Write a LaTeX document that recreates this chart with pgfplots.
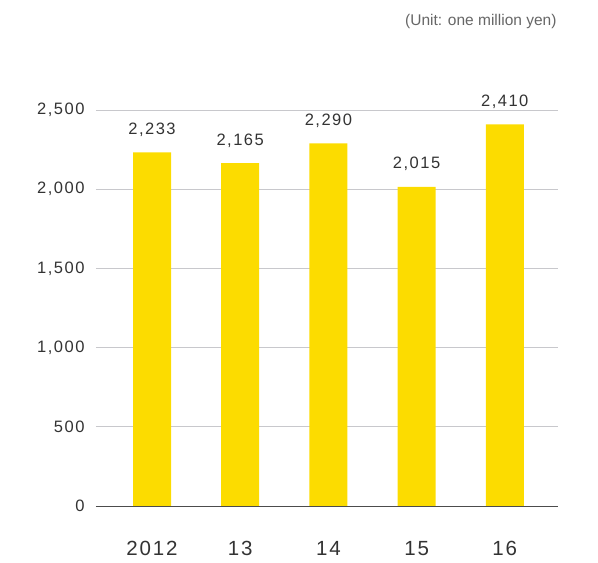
\documentclass[border=0pt]{standalone}
\usepackage{pgfplots}
\pgfplotsset{compat=1.18}
\usepackage{fontspec}
\setmainfont{Liberation Sans}
\newfontfamily\numfont[LetterSpace=9]{Liberation Sans}
\definecolor{baryellow}{HTML}{FCDC00}
\definecolor{gridgray}{HTML}{C8C8CC}
\definecolor{txtgray}{HTML}{333333}
\begin{document}
\begin{tikzpicture}[x=1pt,y=1pt]
\path[use as bounding box] (0,0) rectangle (598,563);
\begin{axis}[
  at={(96pt,57pt)}, anchor=south west,
  scale only axis, width=461.7pt, height=396pt,
  xmin=-0.635, xmax=4.6, ymin=0, ymax=2500,
  axis x line=bottom, axis y line=left,
  x axis line style={draw=black!70, line width=0.8pt, -},
  y axis line style={draw=none},
  ytick={0,500,1000,1500,2000,2500},
  ymajorgrids, grid style={gridgray, line width=0.6pt},
  xtick=data, xticklabels={2012,13,14,15,16},
  major tick length=0pt,
  /pgf/number format/assume math mode=true,
  /pgf/number format/1000 sep={,},
  yticklabel style={font=\numfont\fontsize{16.5}{18}\selectfont, text=txtgray, anchor=east, xshift=-8pt},
  xticklabel style={font=\numfont\fontsize{20.5}{22}\selectfont, text=txtgray, anchor=base, yshift=-49pt},
  ybar, bar width=38pt,
  nodes near coords,
  nodes near coords style={font=\numfont\fontsize{16.5}{19}\selectfont, text=txtgray, anchor=base, yshift=18pt,
    /pgf/number format/1000 sep={,}},
  clip=false,
]
\addplot[fill=baryellow, draw=none] coordinates {(0,2233) (1,2165) (2,2290) (3,2015) (4,2410)};
\node[anchor=base east, font=\fontsize{15.5}{17}\selectfont, text=black!60, inner sep=0pt] at ([xshift=-1pt,yshift=84pt]rel axis cs:1,1) {(Unit: one million yen)};
\end{axis}
\end{tikzpicture}
\end{document}
